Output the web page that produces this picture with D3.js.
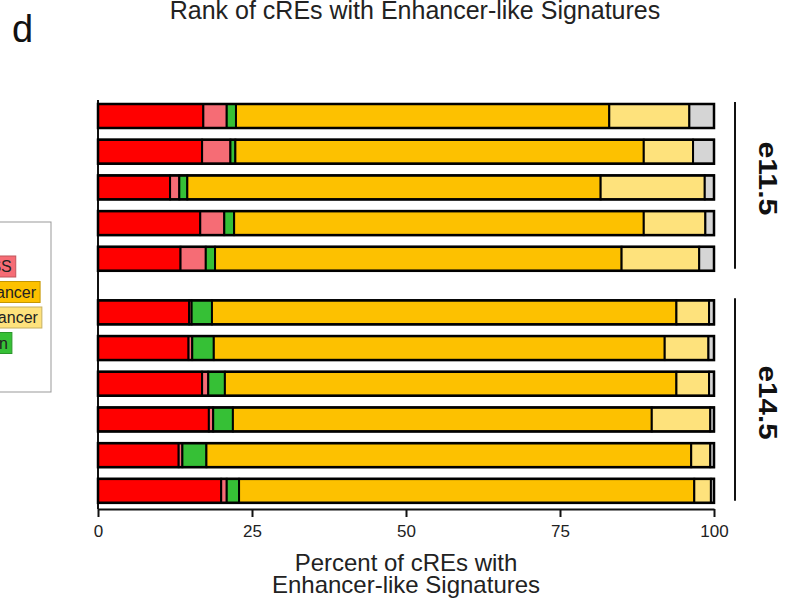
<!DOCTYPE html>
<html><head><meta charset="utf-8">
<script src="https://cdn.jsdelivr.net/npm/d3@7/dist/d3.min.js"></script>
<style>
body{margin:0;background:#fff}
svg{display:block;font-family:"Liberation Sans",Arial,Helvetica,sans-serif}
</style>
</head><body>
<svg id="chart" width="790" height="600"></svg>
<script>
// ---- data ----
const rows = ["e11.5 #1","e11.5 #2","e11.5 #3","e11.5 #4","e11.5 #5",
              "e14.5 #1","e14.5 #2","e14.5 #3","e14.5 #4","e14.5 #5","e14.5 #6"];
const rowGroup = [0,0,0,0,0,1,1,1,1,1,1];
const groupLabels = ["e11.5","e14.5"];
const seriesKeys = ["Active TSS","Flanking TSS","Transcription","Strong Enhancer","Poised Enhancer","Quiescent"];
const seriesColors = ["#ff0000","#f66c75","#36c036","#fdc100","#fee27c","#d5d5d5"];
const activeTSS    = [17.1,16.9,11.7,16.6,13.4,14.8,14.7,16.9,18.0,13.1,20.0];
const flankingTSS  = [3.8,4.6,1.5,3.9,4.1,0.4,0.6,1.0,0.7,0.6,0.9];
const transcription= [1.5,0.8,1.3,1.6,1.5,3.3,3.5,2.7,3.2,3.9,2.0];
const strongEnh    = [60.6,66.3,67.1,66.5,66.0,75.4,73.2,73.3,68.0,78.7,73.9];
const poisedEnh    = [13.0,8.0,16.9,10.0,12.6,5.3,7.1,5.3,9.5,3.1,2.7];
const quiescent    = [4.0,3.4,1.5,1.4,2.4,0.8,0.9,0.8,0.6,0.6,0.5];
const legendOrder = ["Active TSS","Flanking TSS","Strong Enhancer","Poised Enhancer","Transcription","Quiescent"];
const xTicks = [0,25,50,75,100];
const titleText = "Rank of cREs with Enhancer-like Signatures";
const xTitle = ["Percent of cREs with","Enhancer-like Signatures"];

// ---- build table ----
const seriesValues = [activeTSS,flankingTSS,transcription,strongEnh,poisedEnh,quiescent];
const table = rows.map((r,i)=>{
  const o = {row:r, idx:i, group:rowGroup[i]};
  seriesKeys.forEach((k,j)=>o[k]=seriesValues[j][i]);
  return o;
});
const color = d3.scaleOrdinal().domain(seriesKeys).range(seriesColors);

const svg = d3.select("#chart");
const x = d3.scaleLinear().domain([0,100]).range([98,714]);
const pos = d => d.idx + 0.5*d.group;
const step = 35.7;
const y = d3.scaleLinear().domain([0,11]).range([104,104+11*step]);
const barH = 24;

const stacked = d3.stack().keys(seriesKeys)(table);

// left axis line
svg.append("line").attr("x1",98).attr("x2",98).attr("y1",100).attr("y2",509)
  .attr("stroke","#111").attr("stroke-width",2);

// segments
svg.append("g").selectAll("g").data(stacked).join("g")
  .attr("fill",s=>color(s.key))
  .selectAll("rect").data(s=>s).join("rect")
  .attr("x",d=>x(d[0])).attr("width",d=>x(d[1])-x(d[0]))
  .attr("y",d=>y(pos(d.data))).attr("height",barH)
  .attr("stroke","#000").attr("stroke-width",2);

// outer outlines
svg.append("g").selectAll("rect").data(table).join("rect")
  .attr("x",x(0)).attr("width",x(100)-x(0))
  .attr("y",d=>y(pos(d))).attr("height",barH)
  .attr("fill","none").attr("stroke","#000").attr("stroke-width",2.5);

// x axis
const ax = svg.append("g").attr("transform","translate(0,509)")
  .call(d3.axisBottom(x).tickValues(xTicks).tickSize(8).tickSizeOuter(0).tickPadding(8));
ax.select(".domain").attr("stroke","#111").attr("stroke-width",2);
ax.selectAll(".tick line").attr("stroke","#111").attr("stroke-width",2);
ax.selectAll(".tick text").attr("font-size",17).attr("fill","#222")
  .attr("font-family","Liberation Sans, Arial, sans-serif");

// group brackets & labels
groupLabels.forEach((g,gi)=>{
  const members = table.filter(d=>d.group===gi);
  const top = y(pos(members[0])) - 2;
  const bot = y(pos(members[members.length-1])) + barH - 2;
  svg.append("line").attr("x1",735).attr("x2",735).attr("y1",top).attr("y2",bot)
    .attr("stroke","#111").attr("stroke-width",2);
  const cy = gi===0 ? (top+bot)/2 - 7 : (top+bot)/2 + 3;
  svg.append("text").attr("transform",`translate(759,${cy}) rotate(90)`)
    .attr("text-anchor","middle").attr("font-size",25).attr("font-weight","bold")
    .attr("textLength",74).attr("lengthAdjust","spacingAndGlyphs")
    .attr("fill","#111").text(g);
});

// titles
svg.append("text").attr("x",415).attr("y",19).attr("text-anchor","middle")
  .attr("font-size",25).attr("fill","#222").text(titleText);
svg.append("text").attr("x",12).attr("y",42).attr("font-size",38).attr("fill","#111").text("d");
const xt = svg.append("text").attr("text-anchor","middle").attr("font-size",24).attr("fill","#222");
xTitle.forEach((t,i)=>xt.append("tspan").attr("x",406).attr("y",571+22*i).text(t));

// legend (mostly cut off at the left edge)
const lg = svg.append("g");
lg.append("rect").attr("x",-160).attr("y",222).attr("width",211).attr("height",170)
  .attr("fill","#fff").attr("stroke","#999").attr("stroke-width",1);
const lx0 = -84;
legendOrder.forEach((k,i)=>{
  const top = 230.5 + i*25.5;
  const gItem = lg.append("g");
  const txt = gItem.append("text").attr("x",lx0).attr("y",top+16)
    .attr("font-size",16).attr("fill","#222").text(k);
  const w = txt.node().getComputedTextLength();
  gItem.insert("rect","text").attr("x",lx0-3).attr("y",top).attr("width",w+7).attr("height",21)
    .attr("fill",color(k)).attr("stroke",d3.color(color(k)).darker(0.7)).attr("stroke-width",1);
});
</script>
</body></html>
